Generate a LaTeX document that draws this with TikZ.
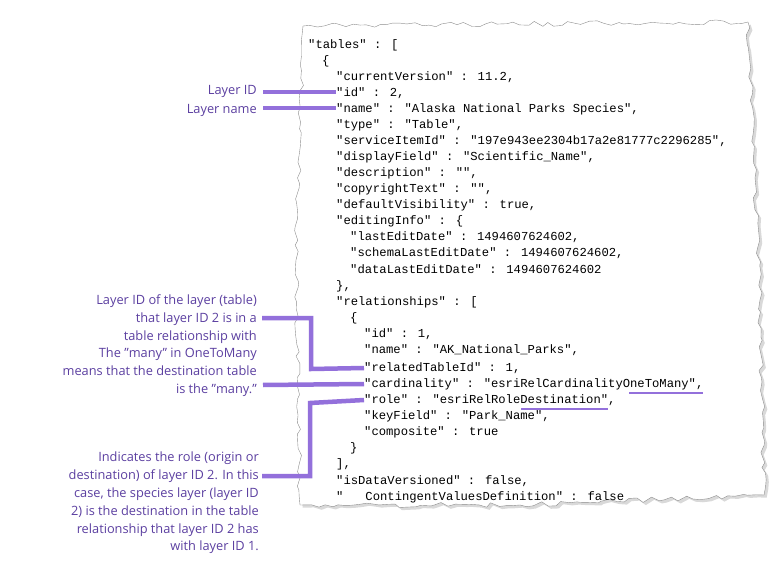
\documentclass[tikz,border=0pt]{standalone}
\usepackage{fontspec}
\setmainfont{Open Sans}
\newfontfamily\codefont{Liberation Mono}
\usetikzlibrary{decorations.pathmorphing,shadows}
\definecolor{notecol}{HTML}{5B3FA0}
\definecolor{barcol}{HTML}{9370DB}

\begin{document}
\begin{tikzpicture}[x=1pt, y=-1pt,
    code/.style={anchor=west, inner sep=0pt, font=\codefont\fontsize{12.2}{14}\selectfont},
    note/.style={anchor=north east, inner sep=0pt, align=right, text=notecol,
        font=\fontsize{12.8}{17.8}\selectfont},
    bar/.style={barcol, line width=4.5pt},
    uline/.style={barcol, line width=1.6pt}]
    \useasboundingbox (0, 0) rectangle (780, 578);

    % torn paper
    \pgfmathsetseed{7}
    \filldraw[draw=black!45, fill=white, drop shadow={opacity=0.3},
        decorate, decoration={random steps, segment length=7pt, amplitude=2.5pt}]
        (303, 26) -- (748, 22) -- (760, 300) -- (764, 495) -- (520, 505)
        -- (300, 505) -- (296, 260) -- cycle;

    % code lines
    \node[code] (tables) at (308, 45) {"tables" : [};
    \node[code] (open1) at (322, 61) {\{};
    \node[code] (ver) at (336, 77) {"currentVersion" : 11.2,};
    \node[code] (id) at (336, 93) {"id" : 2,};
    \node[code] (name) at (336, 109) {"name" : "Alaska National Parks Species",};
    \node[code] (type) at (336, 125) {"type" : "Table",};
    \node[code] (item) at (336, 141) {"serviceItemId" : "197e943ee2304b17a2e81777c2296285",};
    \node[code] (disp) at (336, 157) {"displayField" : "Scientific\_Name",};
    \node[code] (desc) at (336, 173) {"description" : "",};
    \node[code] (copy) at (336, 189) {"copyrightText" : "",};
    \node[code] (vis) at (336, 205) {"defaultVisibility" : true,};
    \node[code] (edit) at (336, 221) {"editingInfo" : \{};
    \node[code] (last) at (350, 237) {"lastEditDate" : 1494607624602,};
    \node[code] (schema) at (350, 253) {"schemaLastEditDate" : 1494607624602,};
    \node[code] (data) at (350, 269) {"dataLastEditDate" : 1494607624602};
    \node[code] (close1) at (336, 286) {\},};
    \node[code] (rels) at (336, 302) {"relationships" : [};
    \node[code] (open2) at (350, 318) {\{};
    \node[code] (rid) at (364, 334) {"id" : 1,};
    \node[code] (rname) at (364, 350) {"name" : "AK\_National\_Parks",};
    \node[code] (related) at (364, 368) {"relatedTableId" : 1,};
    \node[code] (card) at (364, 384) {"cardinality" : "esriRelCardinalityOneToMany",};
    \node[code] (role) at (364, 400) {"role" : "esriRelRoleDestination",};
    \node[code] (key) at (364, 416) {"keyField" : "Park\_Name",};
    \node[code] (comp) at (364, 432) {"composite" : true};
    \node[code] (close2) at (350, 448) {\}};
    \node[code] (close3) at (336, 464) {],};
    \node[code] (versioned) at (336, 481) {"isDataVersioned" : false,};
    \node[code] (contig) at (336, 497) {"\hphantom{has}ContingentValuesDefinition" : false};

    % underlines
    \draw[uline] (629, 393) -- (703, 393);
    \draw[uline] (521, 409) -- (608, 409);

    % notes
    \node[note] (nid) at (257, 85) {Layer ID};
    \node[note] (nname) at (257, 104) {Layer name};
    \node[note] (nrel) at (257, 295) {Layer ID of the layer (table)\\that layer ID 2 is in a\\table relationship with};
    \node[note] (nmany) at (257, 348) {The "many" in OneToMany\\means that the destination table\\is the "many."};
    \node[note] (nrole) at (259, 452) {Indicates the role (origin or\\destination) of layer ID 2. In this\\case, the species layer (layer ID\\2) is the destination in the table\\relationship that layer ID 2 has\\with layer ID 1.};

    % connectors
    \draw[bar] (263, 92) -- (id.west |- 0, 92);
    \draw[bar] (263, 108) -- (name.west |- 0, 108);
    \draw[bar] (262, 318) -- (311, 318) -- (311, 369) -- (related.west);
    \draw[bar] (263, 385) -- (card.west);
    \draw[bar] (262, 476) -- (310, 476) -- (310, 403) -- (role.west);
\end{tikzpicture}
\end{document}
